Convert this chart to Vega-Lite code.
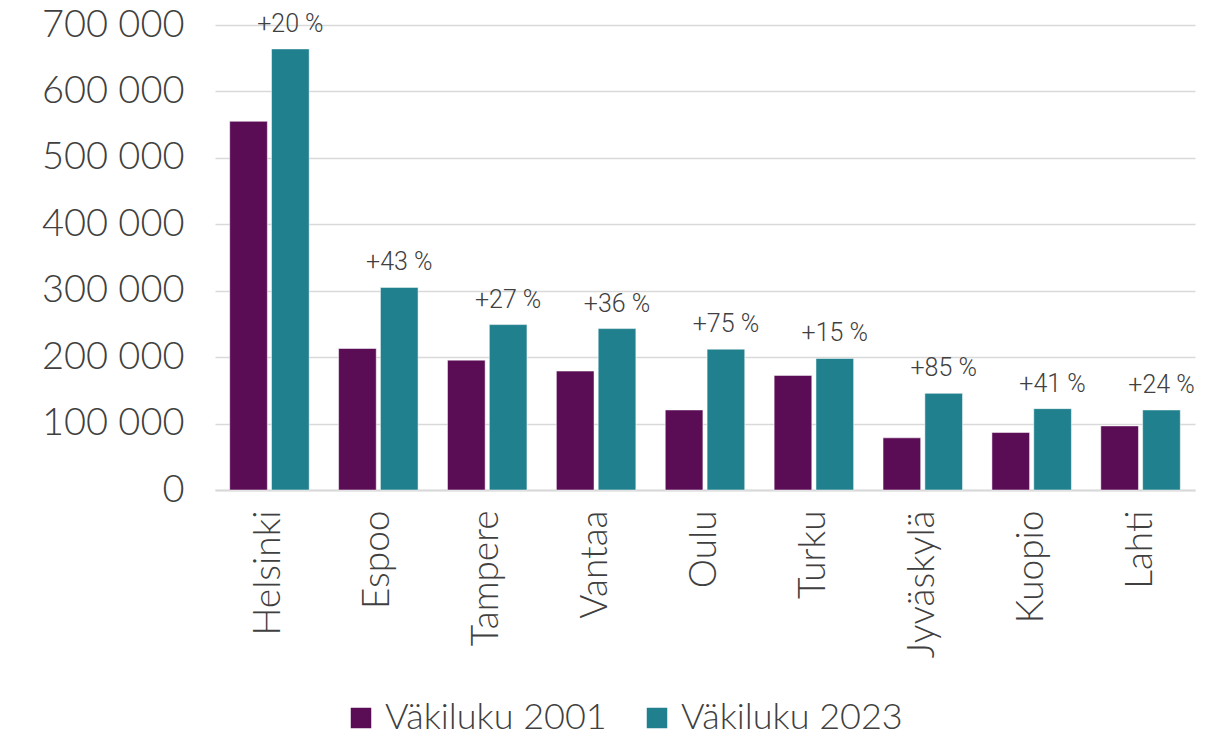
{
  "$schema": "https://vega.github.io/schema/vega-lite/v6.json",
  "autosize": {"type": "none"},
  "padding": {"left": 215, "top": 25, "right": 21, "bottom": 247},
  "width": 980,
  "height": 465,
  "background": "white",
  "config": {"view": {"stroke": null}, "font": "Lato"},
  "data": {"values": [
    {"city": "Helsinki", "series": "Väkiluku 2001", "value": 555000, "label": ""},
    {"city": "Helsinki", "series": "Väkiluku 2023", "value": 664000, "label": "+20 %"},
    {"city": "Espoo", "series": "Väkiluku 2001", "value": 213000, "label": ""},
    {"city": "Espoo", "series": "Väkiluku 2023", "value": 305000, "label": "+43 %"},
    {"city": "Tampere", "series": "Väkiluku 2001", "value": 195500, "label": ""},
    {"city": "Tampere", "series": "Väkiluku 2023", "value": 249000, "label": "+27 %"},
    {"city": "Vantaa", "series": "Väkiluku 2001", "value": 179000, "label": ""},
    {"city": "Vantaa", "series": "Väkiluku 2023", "value": 243000, "label": "+36 %"},
    {"city": "Oulu", "series": "Väkiluku 2001", "value": 120500, "label": ""},
    {"city": "Oulu", "series": "Väkiluku 2023", "value": 212000, "label": "+75 %"},
    {"city": "Turku", "series": "Väkiluku 2001", "value": 172500, "label": ""},
    {"city": "Turku", "series": "Väkiluku 2023", "value": 198000, "label": "+15 %"},
    {"city": "Jyväskylä", "series": "Väkiluku 2001", "value": 78500, "label": ""},
    {"city": "Jyväskylä", "series": "Väkiluku 2023", "value": 145500, "label": "+85 %"},
    {"city": "Kuopio", "series": "Väkiluku 2001", "value": 86500, "label": ""},
    {"city": "Kuopio", "series": "Väkiluku 2023", "value": 122500, "label": "+41 %"},
    {"city": "Lahti", "series": "Väkiluku 2001", "value": 96500, "label": ""},
    {"city": "Lahti", "series": "Väkiluku 2023", "value": 120500, "label": "+24 %"}
  ]},
  "encoding": {
    "x": {
      "field": "city", "type": "nominal", "sort": null,
      "scale": {"paddingInner": 0.27, "paddingOuter": 0.135},
      "axis": {
        "title": null, "labelAngle": -90, "labelAlign": "right", "labelBaseline": "middle",
        "labelFontSize": 37, "labelFontWeight": 300, "labelColor": "#404040", "labelPadding": 20,
        "ticks": false, "domainColor": "#D9D9D9", "domainWidth": 2, "grid": false
      }
    },
    "xOffset": {"field": "series", "type": "nominal", "scale": {"paddingInner": 0.1}},
    "y": {
      "field": "value", "type": "quantitative",
      "scale": {"domain": [0, 700000]},
      "axis": {
        "title": null, "values": [0,100000,200000,300000,400000,500000,600000,700000],
        "labelOverlap": false,
        "labelExpr": "replace(format(datum.value, ',d'), /,/g, ' ')",
        "labelFontSize": 38, "labelFontWeight": 300, "labelColor": "#404040", "labelPadding": 31,
        "ticks": false, "domain": false, "gridColor": "#D9D9D9", "gridWidth": 1.5
      }
    }
  },
  "layer": [
    {
      "mark": {"type": "bar", "stroke": "white", "strokeWidth": 0.5},
      "encoding": {
        "color": {
          "field": "series", "type": "nominal",
          "scale": {"domain": ["Väkiluku 2001", "Väkiluku 2023"], "range": ["#5A0C55", "#20808D"]},
          "legend": {
            "title": null, "orient": "none", "direction": "horizontal",
            "legendX": 128, "legendY": 675,
            "symbolType": "square", "symbolSize": 420, "symbolStrokeWidth": 0,
            "labelFontSize": 36, "labelFontWeight": 300, "labelColor": "#404040", "labelLimit": 400,
            "columnPadding": 32, "labelOffset": 6
          }
        }
      }
    },
    {
      "mark": {"type": "text", "baseline": "bottom", "dy": -12, "fontSize": 25, "fontWeight": 300, "color": "#404040", "font": "Roboto"},
      "encoding": {"text": {"field": "label"}}
    }
  ]
}
